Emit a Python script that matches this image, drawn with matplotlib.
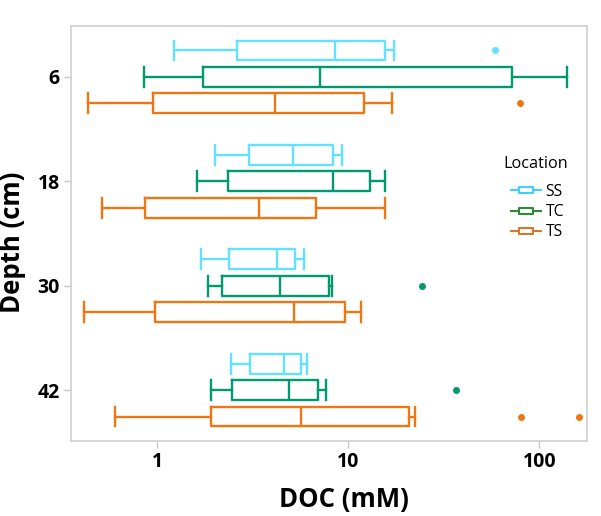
import matplotlib
matplotlib.use("Agg")
import matplotlib.pyplot as plt
from matplotlib.lines import Line2D
from matplotlib.path import Path
import matplotlib.ticker as mticker

plt.rcParams['font.family'] = ['Open Sans', 'DejaVu Sans']

depths = ["6", "18", "30", "42"]
locations = ["SS", "TC", "TS"]
colors = {"SS": "#62e2ff", "TC": "#009a6e", "TS": "#ef7612"}
legend_colors = {"SS": "#3fd0ff", "TC": "#2a8a3a", "TS": "#d4782e"}

# per location: lists over depths (6, 18, 30, 42)
whislo = {
    "SS": [1.22, 2.00, 1.685, 2.42],
    "TC": [0.853, 1.62, 1.85, 1.92],
    "TS": [0.434, 0.515, 0.411, 0.60],
}
q1 = {
    "SS": [2.61, 3.01, 2.38, 3.05],
    "TC": [1.74, 2.35, 2.17, 2.47],
    "TS": [0.947, 0.86, 0.967, 1.91],
}
med = {
    "SS": [8.49, 5.12, 4.24, 4.61],
    "TC": [7.12, 8.31, 4.40, 4.91],
    "TS": [4.14, 3.40, 5.18, 5.65],
}
q3 = {
    "SS": [15.5, 8.31, 5.23, 5.68],
    "TC": [71.7, 12.9, 7.87, 6.97],
    "TS": [12.05, 6.77, 9.57, 20.65],
}
whishi = {
    "SS": [17.3, 9.26, 5.87, 6.05],
    "TC": [140.0, 15.6, 8.17, 7.64],
    "TS": [16.9, 15.5, 11.6, 22.3],
}
fliers = {
    "SS": [[58.8], [], [], []],
    "TC": [[], [], [24.3], [36.6]],
    "TS": [[79.5], [], [], [80.0, 161.0]],
}

W, H = 601, 516
fig = plt.figure(figsize=(W / 100, H / 100), dpi=100)
ax = fig.add_axes([70.7 / W, 1 - 441.3 / H, (587.3 - 70.7) / W, (441.3 - 25.7) / H])

offsets = {"SS": -0.253, "TC": 0.0, "TS": 0.253}
bw = 0.19
for loc in locations:
    stats = []
    for i in range(len(depths)):
        stats.append(dict(whislo=whislo[loc][i], q1=q1[loc][i], med=med[loc][i],
                          q3=q3[loc][i], whishi=whishi[loc][i], fliers=fliers[loc][i]))
    pos = [i + offsets[loc] for i in range(len(depths))]
    c = colors[loc]
    ax.bxp(stats, positions=pos, widths=bw, capwidths=bw, vert=False,
           showfliers=True, manage_ticks=False,
           boxprops=dict(color=c, linewidth=1.7),
           whiskerprops=dict(color=c, linewidth=1.7),
           capprops=dict(color=c, linewidth=1.7),
           medianprops=dict(color=c, linewidth=1.7),
           flierprops=dict(marker='o', markerfacecolor=c, markeredgecolor=c,
                           markersize=4, linestyle='none'))

ax.set_xscale('log')
ax.set_xlim(0.352, 178.0)
ax.set_ylim(3.49, -0.49)
ax.set_xticks([1, 10, 100])
ax.set_xticklabels(["1", "10", "100"])
ax.xaxis.set_minor_locator(mticker.NullLocator())
ax.set_yticks(range(len(depths)))
ax.set_yticklabels(depths)

for lab in ax.get_xticklabels() + ax.get_yticklabels():
    lab.set_fontweight('bold')
    lab.set_fontsize(14)
ax.tick_params(axis='both', color='#c8c8c8', length=5, width=1, pad=3)

for sp in ax.spines.values():
    sp.set_color('#cfcfcf')
    sp.set_linewidth(1.2)

fig.text(344 / W, 1 - 499 / H, "DOC (mM)", fontsize=18.5, fontweight='bold',
         ha='center', va='center')
fig.text(12.7 / W, 1 - 242 / H, "Depth (cm)", fontsize=18.5, fontweight='bold',
         ha='center', va='center', rotation=90)

rect = Path([(-1, -0.46), (1, -0.46), (1, 0.46), (-1, 0.46), (-1, -0.46)],
            [Path.MOVETO, Path.LINETO, Path.LINETO, Path.LINETO, Path.CLOSEPOLY])
handles = [Line2D([0], [0], color=legend_colors[l], linewidth=1.5, marker=rect,
                  markersize=10, markerfacecolor='white',
                  markeredgecolor=legend_colors[l], markeredgewidth=1.5)
           for l in locations]
leg = fig.legend(handles, locations, loc='center left',
                 bbox_to_anchor=(497 / W, 1 - 212 / H), frameon=False,
                 fontsize=11.3, handlelength=1.9,
                 handletextpad=0.3, labelspacing=0.28, borderpad=0.4)
fig.text(503.3 / W, 1 - 164 / H, "Location", fontsize=11.7, ha='left', va='center')

fig.savefig("out.png", dpi=100)
